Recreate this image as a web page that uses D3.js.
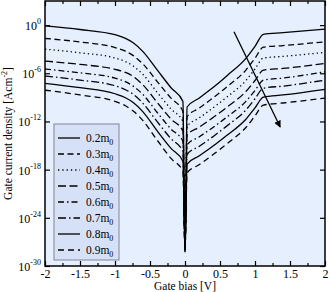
<!DOCTYPE html>
<html>
<head>
<meta charset="utf-8">
<script src="https://cdn.jsdelivr.net/npm/d3@7"></script>
<style>
body { margin: 0; background: #fff; }
text { font-family: "Liberation Serif", "DejaVu Serif", serif; fill: #000; }
</style>
</head>
<body>
<div id="chart-area"></div>
<script>
// effective masses (legend) and line dashes
const masses = ['0.2', '0.3', '0.4', '0.5', '0.6', '0.7', '0.8', '0.9'];
const dashes = ['', '6,3.5', '1.3,3', '8,3.5', '6,3,1.5,3', '8,3,1.5,3', '', '6,4'];

// gate bias grid for the negative and positive branch [V]
const leftBias = [-2, -1.5, -1.0, -0.85, -0.74, -0.6, -0.4, -0.2, -0.03];
const rightBias = [0.03, 0.2, 0.44, 0.6, 0.87, 1.0, 1.12, 1.4, 2.0];
const zeroBias = 0;

// log10 of gate current density, one row per mass
const leftLog = [
  [-0.1, -0.55, -1.2, -1.65, -2.2, -3.3, -5.55, -7.8, -9.5],
  [-1.66, -2.1, -2.8, -3.25, -3.8, -4.85, -7.0, -9.1, -10.75],
  [-3.0, -3.45, -4.1, -4.55, -5.1, -6.15, -8.35, -10.45, -12.0],
  [-4.48, -4.9, -5.5, -5.9, -6.4, -7.45, -9.6, -11.7, -13.2],
  [-5.48, -5.95, -6.6, -7.05, -7.6, -8.65, -10.85, -12.95, -14.45],
  [-6.35, -6.85, -7.55, -8.05, -8.6, -9.75, -12.0, -14.15, -15.7],
  [-7.26, -7.8, -8.55, -9.05, -9.65, -10.8, -13.15, -15.35, -16.95],
  [-8.1, -8.7, -9.5, -10.05, -10.7, -11.9, -14.3, -16.6, -18.2]
];
const zeroLog = [-28.3, -28.2, -28.1, -28.0, -27.9, -27.8, -27.7, -27.6];
const rightLog = [
  [-10.2, -9.1, -7.5, -6.3, -4.15, -2.65, -1.15, -0.95, -0.5],
  [-11.4, -10.36, -8.8, -7.68, -5.6, -4.13, -2.74, -2.55, -2.08],
  [-12.6, -11.58, -10.05, -8.95, -6.9, -5.46, -4.1, -3.9, -3.4],
  [-13.7, -12.73, -11.27, -10.22, -8.27, -6.9, -5.6, -5.4, -4.78],
  [-14.9, -13.93, -12.49, -11.44, -9.5, -8.14, -6.85, -6.6, -5.8],
  [-16.1, -15.11, -13.63, -12.55, -10.57, -9.17, -7.85, -7.6, -6.85],
  [-17.3, -16.3, -14.8, -13.72, -11.72, -10.3, -8.97, -8.7, -8.0],
  [-18.4, -17.39, -15.87, -14.77, -12.75, -11.3, -9.96, -9.7, -9.1]
];

// ticks
const xTicks = [-2, -1.5, -1, -0.5, 0, 0.5, 1, 1.5, 2];
const xMinorTicks = [-1.75, -1.25, -0.75, -0.25, 0.25, 0.75, 1.25, 1.75];
const yTickExp = [0, -6, -12, -18, -24, -30];

// arrow annotation (bias, log10 J)
const arrowFrom = [0.7, -0.83];
const arrowTo = [1.36, -12.7];

//************* Canvas Set Up *************//

let margin = { left: 45, right: 5, top: 1, bottom: 26 };
let width = 330 - margin.left - margin.right;
let height = 292 - margin.top - margin.bottom;

let svg = d3.select('#chart-area').append('svg')
  .attr('width', 330)
  .attr('height', 292);

svg.append('defs').append('marker')
  .attr('id', 'head')
  .attr('viewBox', '0 0 10 10')
  .attr('refX', 9).attr('refY', 5)
  .attr('markerWidth', 7).attr('markerHeight', 7)
  .attr('markerUnits', 'userSpaceOnUse')
  .attr('orient', 'auto')
  .append('path').attr('d', 'M0,0 L10,5 L0,10 Z').attr('fill', '#000');

let g = svg.append('g')
  .attr('transform', 'translate(' + margin.left + ', ' + margin.top + ')');

let x = d3.scaleLinear().domain([-2, 2]).range([0, width]);
let y = d3.scaleLog().domain([1e-30, 1e3]).range([height, 0]);

// plot background
g.append('rect')
  .attr('width', width).attr('height', height)
  .attr('fill', '#e6effd');

// curves
let series = masses.map((m, i) => {
  let pts = leftBias.map((v, j) => ({ v: v, l: leftLog[i][j] }));
  pts.push({ v: zeroBias, l: zeroLog[i] });
  rightBias.forEach((v, j) => pts.push({ v: v, l: rightLog[i][j] }));
  return { m: m, dash: dashes[i], pts: pts };
});

let line = d3.line()
  .x(d => x(d.v))
  .y(d => y(Math.pow(10, d.l)))
  .curve(d3.curveMonotoneX);

g.selectAll('path.curve')
  .data(series)
  .enter()
  .append('path')
    .attr('class', 'curve')
    .attr('d', d => line(d.pts))
    .attr('fill', 'none')
    .attr('stroke', '#000')
    .attr('stroke-width', 1.3)
    .attr('stroke-dasharray', d => d.dash || null);

// arrow
g.append('line')
  .attr('x1', x(arrowFrom[0])).attr('y1', y(Math.pow(10, arrowFrom[1])))
  .attr('x2', x(arrowTo[0])).attr('y2', y(Math.pow(10, arrowTo[1])))
  .attr('stroke', '#000').attr('stroke-width', 1.3)
  .attr('marker-end', 'url(#head)');

// legend
let leg = g.append('g').attr('transform', 'translate(9, 123)');
leg.append('rect')
  .attr('width', 65).attr('height', 136)
  .attr('fill', '#d6e1f7')
  .attr('stroke', '#8f96a3').attr('stroke-width', 1.2);

let rows = leg.selectAll('g.row')
  .data(series)
  .enter()
  .append('g')
    .attr('class', 'row')
    .attr('transform', (d, i) => 'translate(0, ' + (14 + i * 16) + ')');
rows.append('line')
  .attr('x1', 4).attr('x2', 26)
  .attr('stroke', '#000').attr('stroke-width', 1.3)
  .attr('stroke-dasharray', d => d.dash || null);
let lt = rows.append('text')
  .attr('x', 32).attr('y', 4)
  .attr('font-size', '11.5px');
lt.append('tspan').text(d => d.m + 'm');
lt.append('tspan').attr('dy', 3).attr('font-size', '8px').text('0');

// axes (ticks inward on all sides)
let xAxisB = d3.axisBottom(x).tickValues(xTicks).tickSize(-5).tickPadding(3).tickFormat(d => String(d));
let xAxisT = d3.axisTop(x).tickValues(xTicks).tickSize(-5).tickFormat('');
let xMinB = d3.axisBottom(x).tickValues(xMinorTicks).tickSize(-3).tickFormat('');
let xMinT = d3.axisTop(x).tickValues(xMinorTicks).tickSize(-3).tickFormat('');
let yAxisL = d3.axisLeft(y).tickValues(yTickExp.map(e => Math.pow(10, e))).tickSize(-5).tickFormat('');
let yAxisR = d3.axisRight(y).tickValues(yTickExp.map(e => Math.pow(10, e))).tickSize(-5).tickFormat('');

function styleAxis(sel) {
  sel.select('.domain').remove();
  sel.selectAll('line').attr('stroke', '#000').attr('stroke-width', 1.2);
  sel.selectAll('text').attr('font-size', '12px')
    .attr('font-family', '"Liberation Serif", serif').attr('fill', '#000');
}

g.append('g').attr('transform', 'translate(0, ' + height + ')').call(xAxisB).call(styleAxis);
g.append('g').attr('transform', 'translate(0, ' + height + ')').call(xMinB).call(styleAxis);
g.append('g').call(xAxisT).call(styleAxis);
g.append('g').call(xMinT).call(styleAxis);
g.append('g').call(yAxisL).call(styleAxis);
g.append('g').attr('transform', 'translate(' + width + ', 0)').call(yAxisR).call(styleAxis);

// y tick labels 10^n
let yl = g.selectAll('text.ylab')
  .data(yTickExp)
  .enter()
  .append('text')
    .attr('class', 'ylab')
    .attr('x', -4)
    .attr('y', d => y(Math.pow(10, d)) + 5)
    .attr('text-anchor', 'end')
    .attr('font-size', '12px');
yl.append('tspan').text('10');
yl.append('tspan').attr('dy', -6).attr('font-size', '8px').text(d => d === 0 ? '0' : '-' + Math.abs(d));

// frame
g.append('rect')
  .attr('width', width).attr('height', height)
  .attr('fill', 'none')
  .attr('stroke', '#000').attr('stroke-width', 1.5);

// axis labels
g.append('text')
  .attr('x', width / 2)
  .attr('y', height + 24)
  .attr('font-size', '11.5px')
  .attr('text-anchor', 'middle')
  .text('Gate bias [V]');

let ylab = g.append('text')
  .attr('x', -(height / 2))
  .attr('y', -33)
  .attr('font-size', '11.5px')
  .attr('text-anchor', 'middle')
  .attr('transform', 'rotate(-90)');
ylab.append('tspan').text('Gate current density [Acm');
ylab.append('tspan').attr('dy', -5).attr('font-size', '8px').text('-2');
ylab.append('tspan').attr('dy', 5).text(']');
</script>
</body>
</html>
